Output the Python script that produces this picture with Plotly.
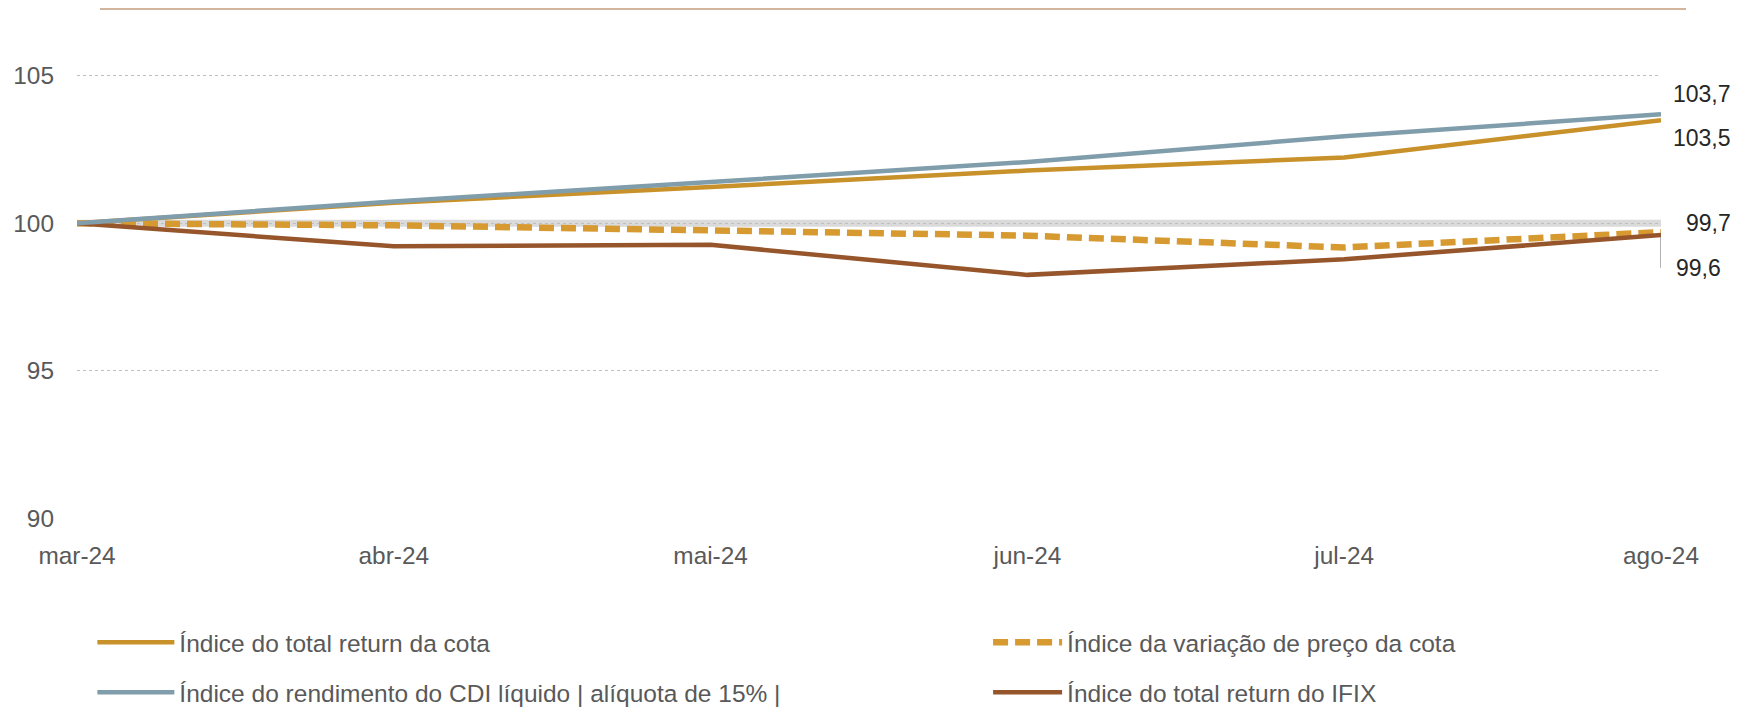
import plotly.graph_objects as go

months = ["mar-24", "abr-24", "mai-24", "jun-24", "jul-24", "ago-24"]
total_return_cota = [100, 100.70, 101.23, 101.79, 102.23, 103.5]
variacao_preco = [100, 99.93, 99.76, 99.58, 99.18, 99.7]
cdi_liquido = [100, 100.74, 101.40, 102.08, 102.95, 103.7]
ifix_total = [100, 99.22, 99.27, 98.25, 98.78, 99.6]

names = [
    "Índice do total return da cota",
    "Índice da variação de preço da cota",
    "Índice do rendimento do CDI líquido | alíquota de 15% |",
    "Índice do total return do IFIX",
]

FONT = "Liberation Sans Narrow, Arial Narrow, Liberation Sans, Arial, sans-serif"
C_COTA = "#C8912A"
C_PRECO = "#D69A30"
C_CDI = "#809DAB"
C_IFIX = "#96552B"

fig = go.Figure()

# reference band at 100
fig.add_shape(type="line", xref="paper", yref="y", x0=0, x1=1, y0=100, y1=100,
              line=dict(color="#DADADA", width=7), layer="below")

fig.add_trace(go.Scatter(x=months, y=total_return_cota, mode="lines", name=names[0],
                         line=dict(color=C_COTA, width=4.5), legend="legend", legendgroup="a"))
fig.add_trace(go.Scatter(x=months, y=variacao_preco, mode="lines", name=names[1],
                         line=dict(color=C_PRECO, width=6.5, dash="15px,7px"), legend="legend2", legendgroup="c"))
fig.add_trace(go.Scatter(x=months, y=ifix_total, mode="lines", name=names[3],
                         line=dict(color=C_IFIX, width=4.5), legend="legend2", legendgroup="d"))
fig.add_trace(go.Scatter(x=months, y=cdi_liquido, mode="lines", name=names[2],
                         line=dict(color=C_CDI, width=4.5), legend="legend", legendgroup="b"))


def fmt(v):
    return f"{v:.1f}".replace(".", ",")

label_specs = [
    (cdi_liquido[-1], 10, 20),
    (total_return_cota[-1], 10, -18),
    (variacao_preco[-1], 23, 9),
    (ifix_total[-1], 13, -33),
]
for val, xs, ys in label_specs:
    fig.add_annotation(x=months[-1], y=val, xref="x", yref="y", text=fmt(val),
                       showarrow=False, xanchor="left", yanchor="middle",
                       xshift=xs, yshift=ys,
                       font=dict(family=FONT, size=23, color="#262626"))

# leader line for IFIX label
fig.add_shape(type="path", xref="x", yref="y", xsizemode="pixel", ysizemode="pixel",
              xanchor=months[-1], yanchor=ifix_total[-1],
              path="M0,-2 L0,-32 L11,-32", line=dict(color="#999999", width=1.5))

# top decorative line
fig.add_shape(type="line", xref="paper", yref="paper", x0=0.0145, x1=1.0158, y0=1.016, y1=1.016,
              line=dict(color="#A86A3C", width=1.2))

fig.update_layout(
    width=1743, height=705,
    margin=dict(l=69, r=90, t=9, b=195, autoexpand=False),
    paper_bgcolor="white", plot_bgcolor="white",
    font=dict(family=FONT, size=24, color="#595959"),
    showlegend=True,
    legend=dict(x=0.0484, y=0.132, xref="container", yref="container",
                xanchor="left", yanchor="top", orientation="v",
                itemwidth=77, tracegroupgap=15, bgcolor="rgba(0,0,0,0)",
                font=dict(family=FONT, size=24.5, color="#595959")),
    legend2=dict(x=0.5623, y=0.132, xref="container", yref="container",
                 xanchor="left", yanchor="top", orientation="v",
                 itemwidth=69, tracegroupgap=15, bgcolor="rgba(0,0,0,0)",
                 font=dict(family=FONT, size=24.5, color="#595959")),
)

fig.update_xaxes(range=[0, 5], showgrid=False, showline=False, zeroline=False,
                 ticks="", ticklabelstandoff=21,
                 tickfont=dict(family=FONT, size=24.4, color="#595959"))
fig.update_yaxes(range=[90, 107], tickvals=[90, 95, 100, 105], showgrid=True,
                 gridcolor="#BFBFBF", griddash="dot", gridwidth=1,
                 showline=False, zeroline=False, ticks="", ticklabelstandoff=22,
                 tickfont=dict(family=FONT, size=24.4, color="#595959"))

fig.write_html("out.html")
